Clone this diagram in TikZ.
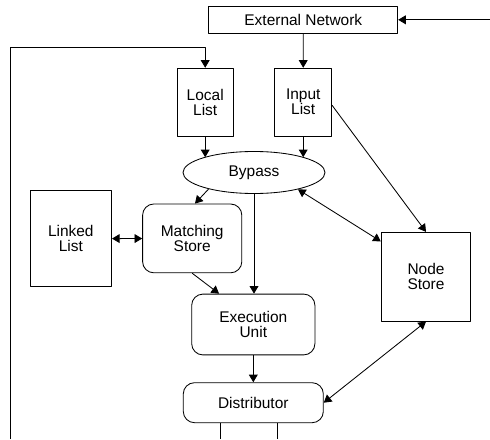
\documentclass[tikz,border=0pt]{standalone}
\usepackage{fontspec}
\setmainfont{Liberation Sans}
\usetikzlibrary{arrows.meta,shapes.geometric}
\begin{document}
\begin{tikzpicture}[x=0.025cm,y=-0.025cm,>={Triangle[length=0.19cm,width=0.22cm]},line join=round,line width=0.6pt,font=\fontsize{11}{10.7}\selectfont,
	block/.style={draw,align=center,inner sep=0pt},
	rblock/.style={block,rounded corners=0.28cm},
	oval/.style={draw,ellipse,inner sep=0pt,minimum width=3.55cm,minimum height=1.05cm}]
		\useasboundingbox (0,0) rectangle (490,439);
		\node[block,minimum width=4.72cm,minimum height=0.675cm] (ext) at (303.3,19.8) {External Network};
		\node[block,minimum width=1.4cm,minimum height=1.7cm] (local) at (205.2,102.2) {Local\\List};
		\node[block,minimum width=1.42cm,minimum height=1.7cm] (input) at (303.2,102.2) {Input\\List};
		\node[oval] (bypass) at (254,172.5) {Bypass};
		\node[block,minimum width=2.04cm,minimum height=2.4cm] (linked) at (70.8,238.7) {Linked\\List};
		\node[rblock,minimum width=2.48cm,minimum height=1.72cm] (match) at (192.2,238.4) {Matching\\Store};
		\node[rblock,minimum width=3.08cm,minimum height=1.52cm] (exec) at (253.3,324.5) {Execution\\Unit};
		\node[rblock,minimum width=3.5cm,minimum height=1cm] (dist) at (253.3,402.7) {Distributor};
		\node[block,minimum width=2.24cm,minimum height=2.22cm] (nstore) at (426,276.7) {Node\\Store};
		\coordinate (feed) at (490,19.8);
		\coordinate (loop) at (10,439);
		\coordinate (outa) at (220.7,439);
		\coordinate (outb) at (277.7,439);
		\draw[->] (feed) -- (ext.east);
		\draw[->] (ext.south) -- (input.north);
		\draw[->] (loop) |- ([yshift=0.515cm]local.north) -- (local.north);
		\draw[->] (local.south) -- (local.south |- bypass.163);
		\draw[->] (input.south) -- (input.south |- bypass.17);
		\draw[->] (bypass.200) -- ([xshift=0.07cm]match.north);
		\draw[<->] (linked) -- (match);
		\draw[->] (bypass.south) -- (bypass.south |- exec.north);
		\draw[->] (match.south) -- (exec.138);
		\draw[->] (exec) -- (dist);
		\draw[->] (input.-6) -- (nstore.north);
		\draw[<->] (bypass.-21) -- (nstore.142);
		\draw[<->] (dist.east) -- (nstore.south);
		\draw (outa |- dist.south) -- (outa);
		\draw (outb |- dist.south) -- (outb);
\end{tikzpicture}
\end{document}
